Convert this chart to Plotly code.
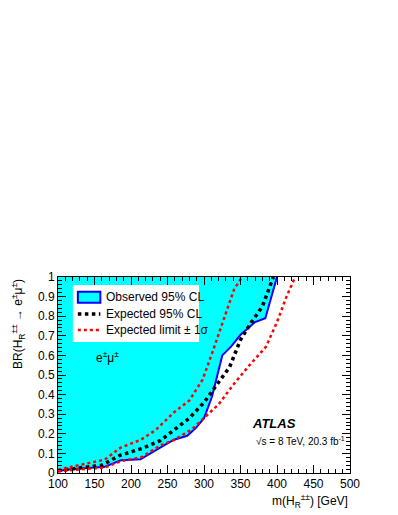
import plotly.graph_objects as go

# observed 95% CL limit
obs_mass = [100, 120, 140, 163, 186, 213, 240, 259, 277, 289, 300, 311, 325, 337, 350, 370, 384, 400]
obs_br = [0.01, 0.02, 0.025, 0.03, 0.065, 0.07, 0.13, 0.17, 0.19, 0.23, 0.28, 0.39, 0.60, 0.645, 0.705, 0.77, 0.79, 1.0]

# expected 95% CL limit
exp_mass = [100, 130, 160, 185, 215, 240, 260, 280, 300, 315, 335, 350, 365, 380, 395]
exp_br = [0.012, 0.025, 0.04, 0.09, 0.125, 0.165, 0.225, 0.28, 0.36, 0.44, 0.54, 0.68, 0.77, 0.85, 1.0]

# expected +1 sigma band edge (left)
up_mass = [100, 130, 164, 186, 214, 234, 259, 280, 298, 311, 325, 341, 352]
up_br = [0.017, 0.04, 0.068, 0.13, 0.17, 0.22, 0.31, 0.37, 0.476, 0.61, 0.765, 0.935, 1.0]

# expected -1 sigma band edge (right)
dn_mass = [100, 130, 164, 186, 214, 240, 260, 284, 300, 320, 340, 360, 385, 400, 413, 425]
dn_br = [0.009, 0.018, 0.028, 0.06, 0.08, 0.14, 0.17, 0.225, 0.28, 0.35, 0.45, 0.54, 0.645, 0.77, 0.9, 1.0]

legend_labels = ["Observed 95% CL", "Expected 95% CL", "Expected limit \u00b1 1\u03c3"]

font = "Liberation Sans, Arial, sans-serif"

fig = go.Figure()

# top edge helper for the excluded area fill
fig.add_trace(go.Scatter(x=obs_mass, y=[1.0] * len(obs_mass), mode="lines",
                         line=dict(width=0, color="rgba(0,0,0,0)"),
                         showlegend=False, hoverinfo="skip"))
fig.add_trace(go.Scatter(x=obs_mass, y=obs_br, mode="lines", fill="tonexty",
                         fillcolor="#00ffff", line=dict(color="#0000ff", width=2),
                         name=legend_labels[0], showlegend=False))
fig.add_trace(go.Scatter(x=exp_mass, y=exp_br, mode="lines",
                         line=dict(color="black", width=3.5, dash="dot"),
                         name=legend_labels[1], showlegend=False))
fig.add_trace(go.Scatter(x=up_mass, y=up_br, mode="lines",
                         line=dict(color="#ff0000", width=2.5, dash="dot"),
                         name=legend_labels[2], showlegend=False))
fig.add_trace(go.Scatter(x=dn_mass, y=dn_br, mode="lines",
                         line=dict(color="#ff0000", width=2.5, dash="dot"),
                         showlegend=False))

axis_common = dict(showline=True, linecolor="black", linewidth=1, mirror="allticks",
                   ticks="inside", ticklen=8, tickcolor="black", showgrid=False,
                   zeroline=False, tickfont=dict(family=font, size=12, color="black"))

fig.update_xaxes(range=[100, 500], tickvals=[100, 150, 200, 250, 300, 350, 400, 450, 500],
                 minor=dict(ticks="inside", ticklen=4, dtick=10, tickcolor="black", showgrid=False),
                 **axis_common)
fig.update_yaxes(range=[0, 1], tickvals=[0, 0.1, 0.2, 0.3, 0.4, 0.5, 0.6, 0.7, 0.8, 0.9, 1],
                 ticktext=["0", "0.1", "0.2", "0.3", "0.4", "0.5", "0.6", "0.7", "0.8", "0.9", "1"],
                 minor=dict(ticks="inside", ticklen=4, dtick=0.02, tickcolor="black", showgrid=False),
                 **axis_common)

# hand-made ROOT style legend (paper coordinates)
shapes = [
    dict(type="rect", xref="paper", yref="paper", x0=0.051, x1=0.483, y0=0.668, y1=0.959,
         fillcolor="white", line=dict(width=0)),
    dict(type="rect", xref="paper", yref="paper", x0=0.068, x1=0.145, y0=0.869, y1=0.925,
         fillcolor="#00ffff", line=dict(color="#0000ff", width=2)),
    dict(type="line", xref="paper", yref="paper", x0=0.068, x1=0.145, y0=0.811, y1=0.811,
         line=dict(color="black", width=3.5, dash="dot")),
    dict(type="line", xref="paper", yref="paper", x0=0.068, x1=0.145, y0=0.730, y1=0.730,
         line=dict(color="#ff0000", width=2.5, dash="dot")),
]
legend_y = [0.897, 0.811, 0.730]
annotations = [
    dict(xref="paper", yref="paper", x=0.158, y=ly, xanchor="left", yanchor="middle",
         text=lab, showarrow=False, font=dict(family=font, size=12, color="black"))
    for lab, ly in zip(legend_labels, legend_y)
]

annotations += [
    dict(x=168, y=0.59, text="e<sup>\u00b1</sup>\u03bc<sup>\u00b1</sup>", showarrow=False,
         font=dict(family=font, size=12, color="black")),
    dict(x=396, y=0.255, text="<b><i>ATLAS</i></b>", showarrow=False,
         font=dict(family=font, size=13, color="black")),
    dict(x=432, y=0.165, text="\u221as = 8 TeV, 20.3 fb<sup>-1</sup>", showarrow=False,
         font=dict(family=font, size=10, color="black")),
    dict(xref="paper", yref="paper", x=1.0, y=-0.085, xanchor="right", yanchor="top",
         text="m(H<sub>R</sub><sup>\u00b1\u00b1</sup>) [GeV]", showarrow=False,
         font=dict(family=font, size=12, color="black")),
    dict(xref="paper", yref="paper", x=-0.137, y=1.0, xanchor="center", yanchor="top",
         text="BR(H<sub>R</sub><sup>\u00b1\u00b1</sup> \u2192 e<sup>\u00b1</sup>\u03bc<sup>\u00b1</sup>)",
         textangle=-90, showarrow=False,
         font=dict(family=font, size=12, color="black")),
]

# page body has an 8px margin, so the figure is drawn at (8, 8)
fig.update_layout(
    width=390, height=507,
    margin=dict(l=50, r=48, t=269, b=42),
    paper_bgcolor="white", plot_bgcolor="white",
    font=dict(family=font, size=12, color="black"),
    showlegend=False,
    shapes=shapes,
    annotations=annotations,
)

fig.write_html("out.html")
